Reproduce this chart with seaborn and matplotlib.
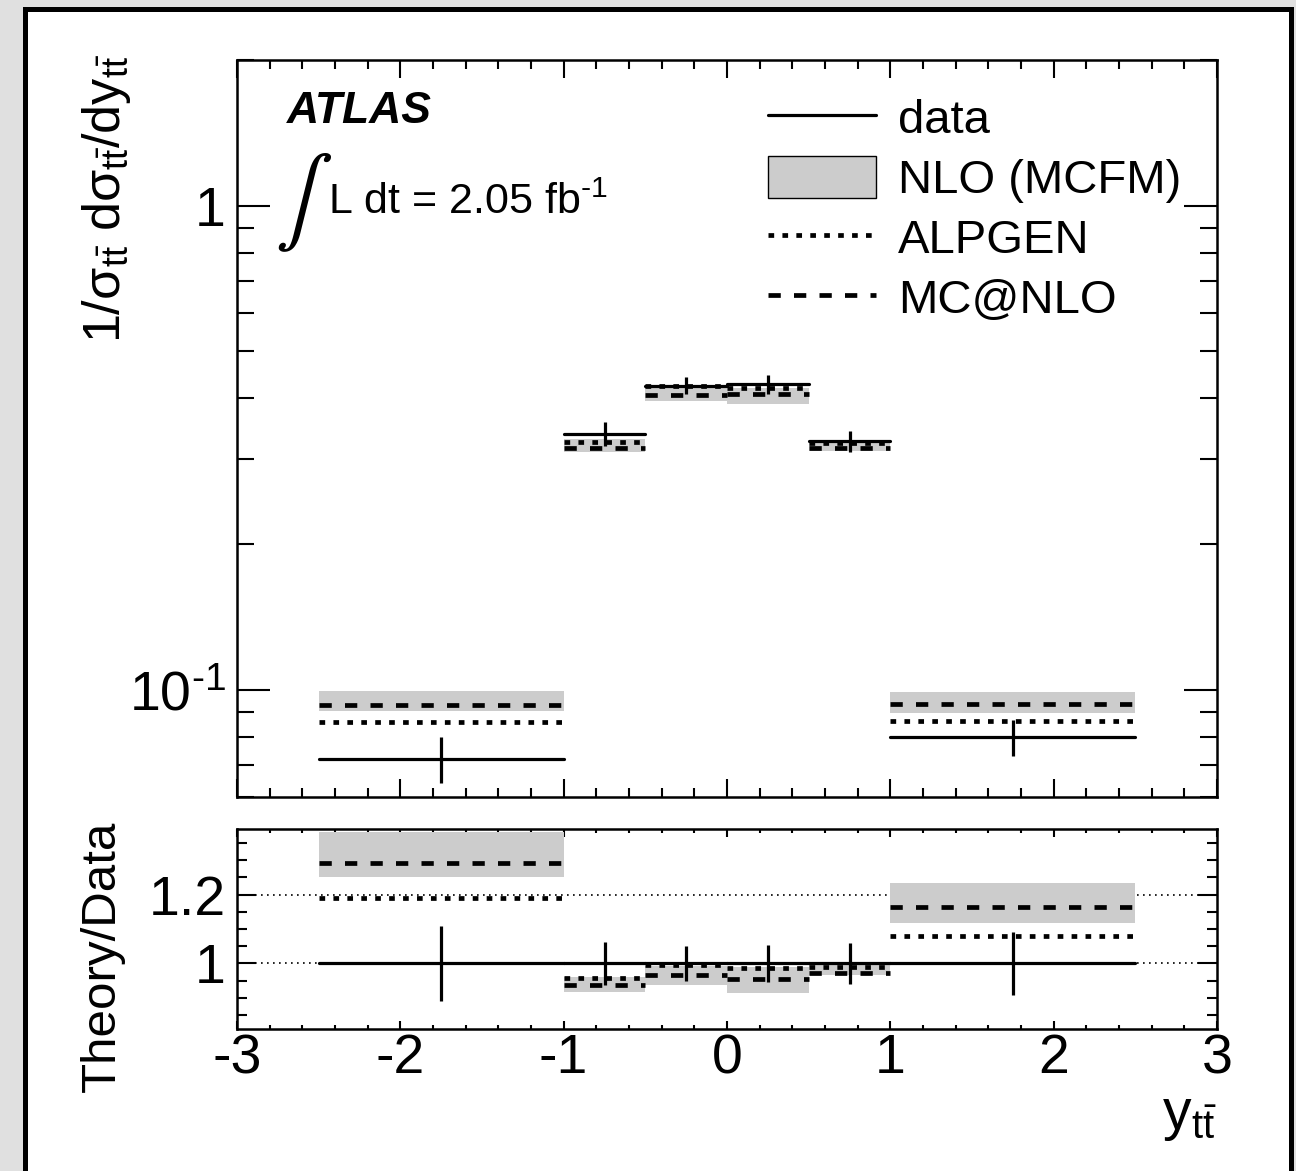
import numpy as np
import pandas as pd
import matplotlib
matplotlib.use("Agg")
import matplotlib.pyplot as plt
import seaborn as sns
from matplotlib.ticker import MultipleLocator, FixedLocator, FuncFormatter, LogLocator, NullFormatter
from matplotlib.patches import Rectangle, Patch
from matplotlib.lines import Line2D

# ---------------- data ----------------
bin_edges = [-2.5, -1.0, -0.5, 0.0, 0.5, 1.0, 2.5]

data_vals = [0.0720, 0.338, 0.4246, 0.428, 0.3266, 0.0798]
data_err = [0.0079, 0.020, 0.017, 0.019, 0.0165, 0.0069]
alpgen_vals = [0.0857, 0.325, 0.4233, 0.420, 0.323, 0.0860]
mcnlo_vals = [0.0928, 0.315, 0.406, 0.408, 0.316, 0.0934]
nlo_lo = [0.0902, 0.310, 0.394, 0.389, 0.311, 0.0895]
nlo_hi = [0.0995, 0.329, 0.420, 0.420, 0.327, 0.0987]

ratio_data = [1.0, 1.0, 1.0, 1.0, 1.0, 1.0]
ratio_data_err = [0.11, 0.063, 0.051, 0.055, 0.060, 0.091]
ratio_alpgen = [1.19, 0.957, 0.997, 0.988, 0.990, 1.079]
ratio_mcnlo = [1.29, 0.9376, 0.966, 0.955, 0.973, 1.163]
ratio_nlo_lo = [1.251, 0.918, 0.937, 0.915, 0.966, 1.118]
ratio_nlo_hi = [1.382, 0.960, 0.993, 0.990, 0.997, 1.233]

main_yticks = [0.1, 1.0]
main_yticklabels = [r"10$^{\text{-1}}$", "1"]
ratio_yticks = [1.0, 1.2]
ratio_yticklabels = ["1", "1.2"]
ratio_reflines = [1.0, 1.2]
legend_labels = ["data", "NLO (MCFM)", "ALPGEN", "MC@NLO"]

# ---------------- style ----------------
sns.set_theme(style="ticks")
plt.rcParams["font.family"] = ["Liberation Sans", "DejaVu Sans"]
plt.rcParams["mathtext.fontset"] = "custom"
plt.rcParams["mathtext.rm"] = "Liberation Sans"
plt.rcParams["mathtext.it"] = "Liberation Sans:italic"
plt.rcParams["mathtext.bf"] = "Liberation Sans:bold"
plt.rcParams["axes.unicode_minus"] = False
for key in ("text.color", "axes.labelcolor", "xtick.color", "ytick.color",
            "xtick.labelcolor", "ytick.labelcolor", "axes.edgecolor"):
    plt.rcParams[key] = "black"

W, H = 1296, 1171
fig = plt.figure(figsize=(W / 100, H / 100), dpi=100, facecolor="#e0e0e0")
fig.patches.append(Rectangle((24.5 / W, -0.05), (1290.5 - 24.5) / W, 1 - 8.5 / H + 0.05,
                             transform=fig.transFigure, facecolor="white",
                             edgecolor="black", linewidth=3.6, zorder=-10))

ax = fig.add_axes([237 / W, 1 - 797 / H, 980 / W, 737 / H])
rax = fig.add_axes([237 / W, 1 - 1029 / H, 980 / W, 200 / H])

edges = np.array(bin_edges)
centers = 0.5 * (edges[:-1] + edges[1:])
widths = np.diff(edges)


def seg_frame(vals):
    rows = []
    for i, v in enumerate(vals):
        rows.append({"x": edges[i], "y": v, "seg": i})
        rows.append({"x": edges[i + 1], "y": v, "seg": i})
    return pd.DataFrame(rows)


DOT = (0, (1.2, 1.75))
DASH = (0, (2.6, 2.8))


def draw_panel(a, band_lo, band_hi, alp, mcn, dat, err):
    lo = np.array(band_lo)
    hi = np.array(band_hi)
    a.bar(edges[:-1], hi - lo, bottom=lo, width=widths, align="edge",
          color="#cccccc", linewidth=0, zorder=1)
    sns.lineplot(data=seg_frame(mcn), x="x", y="y", units="seg", estimator=None,
                 sort=False, color="black", lw=3.4, linestyle=DASH, ax=a, zorder=3)
    sns.lineplot(data=seg_frame(alp), x="x", y="y", units="seg", estimator=None,
                 sort=False, color="black", lw=3.4, linestyle=DOT, ax=a, zorder=3)
    sns.lineplot(data=seg_frame(dat), x="x", y="y", units="seg", estimator=None,
                 sort=False, color="black", lw=2.3, ax=a, zorder=4)
    a.errorbar(centers, dat, yerr=err, fmt="none", ecolor="black",
               elinewidth=2.3, capsize=0, zorder=4)


# ---------------- main panel ----------------
ax.set_yscale("log")
ax.set_xlim(-3, 3)
ax.set_ylim(0.06, 2.0)
draw_panel(ax, nlo_lo, nlo_hi, alpgen_vals, mcnlo_vals, data_vals, data_err)

ax.xaxis.set_major_locator(MultipleLocator(1))
ax.xaxis.set_minor_locator(MultipleLocator(0.2))
ax.yaxis.set_major_locator(FixedLocator(main_yticks))
ax.yaxis.set_major_formatter(FuncFormatter(
    lambda v, p: dict(zip(main_yticks, main_yticklabels)).get(v, "")))
ax.yaxis.set_minor_locator(LogLocator(base=10, subs=np.arange(2, 10) * 1.0, numticks=20))
ax.yaxis.set_minor_formatter(NullFormatter())
ax.tick_params(which="both", direction="in", top=True, right=True,
               labelbottom=False, color="black", width=1.5)
ax.tick_params(axis="x", which="major", length=13)
ax.tick_params(axis="x", which="minor", length=6.5)
ax.tick_params(axis="y", which="major", length=24, labelsize=40, pad=8)
ax.tick_params(axis="y", which="minor", length=12)
ax.set_xlabel("")
ax.set_ylabel(r"$\mathrm{1/\sigma_{t\bar{t}}\ d\sigma_{t\bar{t}}/dy_{t\bar{t}}}$",
              fontsize=37.5, loc="top")
ax.yaxis.set_label_coords(-0.106, 1.008)

ax.text(0.051, 0.9145, "ATLAS", transform=ax.transAxes, fontsize=32,
        fontweight="bold", fontstyle="italic", va="baseline", ha="left")
ax.text(0.039, 0.806, r"$\int$", transform=ax.transAxes, fontsize=62,
        math_fontfamily="stix", va="center", ha="left")
ax.text(0.0929, 0.791, r"L dt = 2.05 fb$^{\text{-1}}$", transform=ax.transAxes,
        fontsize=31, va="baseline", ha="left")

handles = [
    Line2D([], [], color="black", lw=2.3),
    Patch(facecolor="#cccccc", edgecolor="black", linewidth=1.0),
    Line2D([], [], color="black", lw=3.4, linestyle=DOT),
    Line2D([], [], color="black", lw=3.4, linestyle=DASH),
]
ax.legend(handles, legend_labels, loc="upper left",
          bbox_to_anchor=(768 / W, 1 - 96 / H), bbox_transform=fig.transFigure,
          frameon=False, fontsize=34, handlelength=2.28, handletextpad=0.47,
          labelspacing=0.27, borderpad=0, borderaxespad=0, handleheight=1.0)

# ---------------- ratio panel ----------------
rax.set_xlim(-3, 3)
rax.set_ylim(0.81, 1.39)
for r in ratio_reflines:
    rax.axhline(r, color="black", lw=1.2, linestyle=(0, (1, 2.6)), zorder=0.5)
draw_panel(rax, ratio_nlo_lo, ratio_nlo_hi, ratio_alpgen, ratio_mcnlo,
           ratio_data, ratio_data_err)

rax.xaxis.set_major_locator(MultipleLocator(1))
rax.xaxis.set_minor_locator(MultipleLocator(0.2))
rax.yaxis.set_major_locator(FixedLocator(ratio_yticks))
rax.yaxis.set_major_formatter(FuncFormatter(
    lambda v, p: dict(zip(ratio_yticks, ratio_yticklabels)).get(round(v, 3), "")))
rax.yaxis.set_minor_locator(MultipleLocator(0.05))
rax.tick_params(which="both", direction="in", top=True, right=True,
                color="black", width=1.5)
rax.tick_params(axis="x", which="major", length=6, labelsize=40, pad=3)
rax.tick_params(axis="x", which="minor", length=3)
rax.tick_params(axis="y", which="major", length=14, labelsize=40, pad=8)
rax.tick_params(axis="y", which="minor", length=7)
rax.set_ylabel("Theory/Data", fontsize=35.5, loc="top")
rax.yaxis.set_label_coords(-0.114, 1.04)
rax.set_xlabel(r"$\mathrm{y_{t\bar{t}}}$", fontsize=41, loc="right")
rax.xaxis.set_label_coords(1.0, -0.30)

for a in (ax, rax):
    for s in a.spines.values():
        s.set_linewidth(1.8)
        s.set_color("black")
        s.set_zorder(10)
        s.set_visible(True)

fig.savefig("out.png", dpi=100, facecolor=fig.get_facecolor())
